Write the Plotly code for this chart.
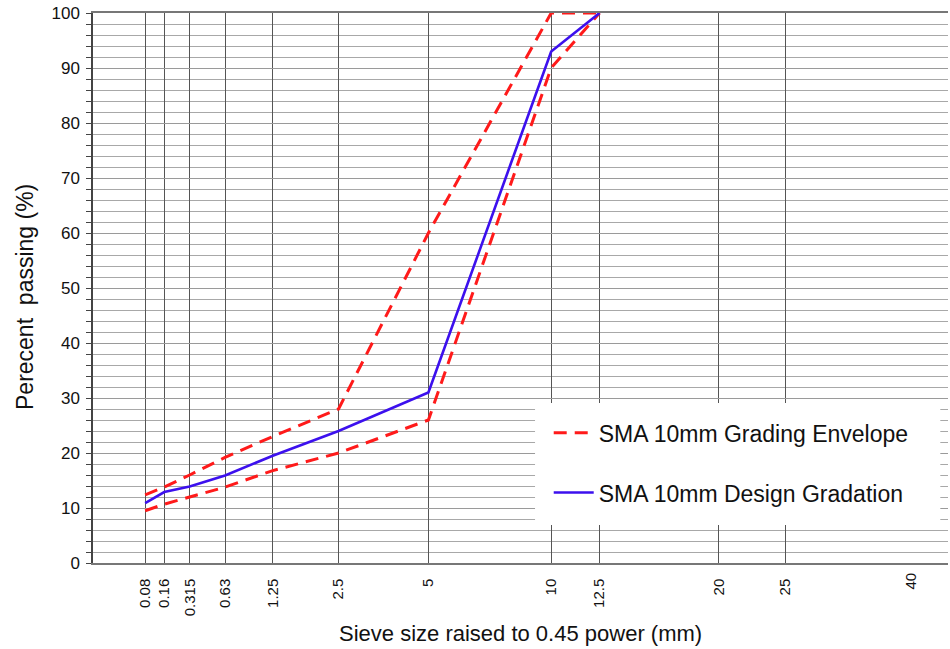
import plotly.graph_objects as go

# Sieve sizes (mm) and their labels
sieves = [0.08, 0.16, 0.315, 0.63, 1.25, 2.5, 5, 10, 12.5, 20, 25, 40]
sieve_labels = ["0.08", "0.16", "0.315", "0.63", "1.25", "2.5", "5", "10", "12.5", "20", "25", "40"]

# Grading curves (percent passing)
curve_sieves = [0.08, 0.16, 0.315, 0.63, 1.25, 2.5, 5, 10, 12.5]
envelope_upper = [12.4, 13.8, 16.0, 19.2, 23.0, 28.0, 60.0, 100.0, 100.0]
envelope_lower = [9.5, 10.7, 12.0, 13.8, 16.8, 20.0, 26.0, 90.0, 100.0]
design_gradation = [10.9, 12.9, 13.9, 15.9, 19.5, 24.0, 31.0, 93.0, 100.0]

POWER = 0.45
FONT = "Liberation Sans, Arial"


def pw(values):
    return [v ** POWER for v in values]


fig = go.Figure()

dash_red = dict(color="#ff1a1a", width=3, dash="13px,8px")

fig.add_trace(go.Scatter(
    x=pw(curve_sieves), y=envelope_upper, mode="lines", line=dash_red,
    name="SMA 10mm Grading Envelope", legendgroup="env", showlegend=True,
))
fig.add_trace(go.Scatter(
    x=pw(curve_sieves), y=envelope_lower, mode="lines", line=dash_red,
    name="SMA 10mm Grading Envelope", legendgroup="env", showlegend=False,
))
fig.add_trace(go.Scatter(
    x=pw(curve_sieves), y=design_gradation, mode="lines",
    line=dict(color="#3c10ee", width=2.6),
    name="SMA 10mm Design Gradation", legendgroup="des",
))

x_max = max(sieves) ** POWER

fig.update_xaxes(
    range=[0, x_max],
    tickmode="array",
    tickvals=pw(sieves[:-1]),
    ticktext=sieve_labels[:-1],
    tickangle=-90,
    tickfont=dict(family=FONT, size=15, color="#111"),
    ticks="",
    ticklabelstandoff=8,
    showgrid=True, gridcolor="#555", gridwidth=1.2,
    showline=True, linecolor="#777", linewidth=1.5, mirror=True,
    zeroline=False,
    automargin=False,
)

fig.update_yaxes(
    range=[0, 100],
    tickmode="linear", tick0=0, dtick=10,
    tickfont=dict(family=FONT, size=17, color="#111"),
    ticks="outside", ticklen=5, tickcolor="#444",
    ticklabelstandoff=3,
    showgrid=True, gridcolor="#9a9a9a", gridwidth=1,
    minor=dict(dtick=2, showgrid=True, gridcolor="#a8a8a8", gridwidth=1,
               ticks="outside", ticklen=5, tickcolor="#444"),
    showline=True, linecolor="#444", linewidth=1.5,
    zeroline=False,
    automargin=False,
)

# Axis titles
fig.add_annotation(
    x=0.5, y=0, xref="paper", yref="paper", xanchor="center", yanchor="middle",
    yshift=-70, showarrow=False,
    text="Sieve size raised to 0.45 power (mm)",
    font=dict(family=FONT, size=22, color="#111"),
)
fig.add_annotation(
    x=0, y=0.5, xref="paper", yref="paper", xanchor="center", yanchor="middle",
    xshift=-68, yshift=-9, showarrow=False, textangle=-90,
    text="Perecent  passing (%)",
    font=dict(family=FONT, size=23, color="#111"),
)

# Label for the last sieve, set just inside the right border
fig.add_annotation(
    x=x_max, y=0, xref="x", yref="y", text=sieve_labels[-1],
    textangle=-90, showarrow=False, xanchor="center", yanchor="top",
    xshift=-38, yshift=-8,
    font=dict(family=FONT, size=15, color="#111"),
)

# White panel behind the legend
fig.add_shape(
    type="rect", xref="paper", yref="paper",
    x0=0.517, x1=0.991, y0=0.069, y1=0.291,
    fillcolor="white", line=dict(width=0), layer="above",
)

fig.update_layout(
    width=950, height=649,
    margin=dict(l=93, r=2, t=13, b=86),
    paper_bgcolor="white", plot_bgcolor="white",
    showlegend=True,
    legend=dict(
        x=0.533, y=0.276, xanchor="left", yanchor="top",
        bgcolor="rgba(255,255,255,0)", borderwidth=0,
        font=dict(family=FONT, size=23, color="#111"),
        tracegroupgap=27,
        itemwidth=40,
    ),
)

fig.write_html("out.html")
